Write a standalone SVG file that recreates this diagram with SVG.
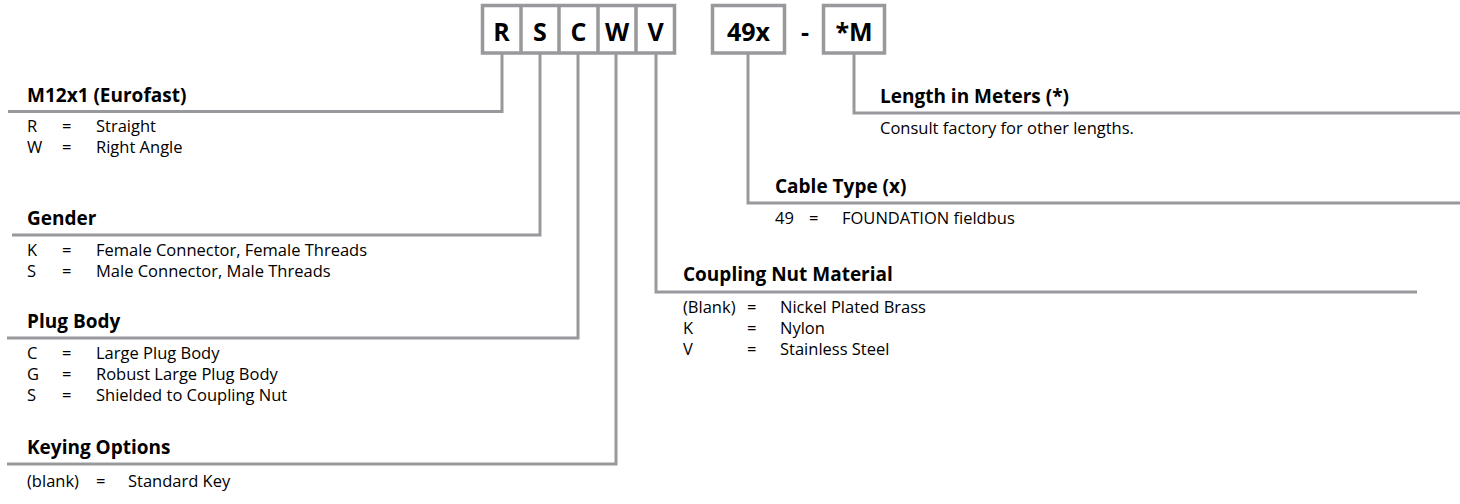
<svg xmlns="http://www.w3.org/2000/svg" width="1460" height="504" viewBox="0 0 1460 504">
<style>
.ln{fill:none;stroke:#98999c;stroke-width:3}
.bx{fill:#fff;stroke:#98999c;stroke-width:3.5}
.code{font-family:"Open Sans","Liberation Sans",sans-serif;font-weight:bold;font-size:25px;fill:#000;text-anchor:middle}
.h{font-family:"Open Sans","Liberation Sans",sans-serif;font-weight:bold;font-size:19px;fill:#000}
.t{font-family:"Open Sans","Liberation Sans",sans-serif;font-size:16.5px;fill:#000}
</style>
<rect width="1460" height="504" fill="#fff"/>
<g id="connectors">
<polyline class="ln" points="502,53 502,111.5 8,111.5"/>
<polyline class="ln" points="540,53 540,235 12,235"/>
<polyline class="ln" points="578,53 578,338 7,338"/>
<polyline class="ln" points="616,53 616,464 7,464"/>
<polyline class="ln" points="656,53 656,292 1417,292"/>
<polyline class="ln" points="748,53 748,203 1460,203"/>
<polyline class="ln" points="854,53 854,113 1460,113"/>
</g>
<g id="code-boxes">
<rect class="bx" x="482.5" y="5.5" width="192" height="47.5"/>
<line class="bx" x1="521" y1="5" x2="521" y2="54"/>
<line class="bx" x1="559" y1="5" x2="559" y2="54"/>
<line class="bx" x1="598" y1="5" x2="598" y2="54"/>
<line class="bx" x1="636" y1="5" x2="636" y2="54"/>
<text class="code" x="501.5" y="41">R</text>
<text class="code" x="540" y="41">S</text>
<text class="code" x="578.5" y="41">C</text>
<text class="code" x="617" y="41">W</text>
<text class="code" x="655.5" y="41">V</text>
<rect class="bx" x="712.5" y="5.5" width="72" height="47.5"/>
<text class="code" x="748.5" y="41">49x</text>
<text class="code" x="805" y="41">-</text>
<rect class="bx" x="823.5" y="5.5" width="61" height="47.5"/>
<text class="code" x="854" y="41">*M</text>
</g>
<g id="m12x1">
<text class="h" x="27" y="102">M12x1 (Eurofast)</text>
<text class="t" x="27" y="132">R</text><text class="t" x="62" y="132">=</text><text class="t" x="96" y="132">Straight</text>
<text class="t" x="27" y="153">W</text><text class="t" x="62" y="153">=</text><text class="t" x="96" y="153">Right Angle</text>
</g>
<g id="gender">
<text class="h" x="27" y="225">Gender</text>
<text class="t" x="27" y="256">K</text><text class="t" x="62" y="256">=</text><text class="t" x="96" y="256">Female Connector, Female Threads</text>
<text class="t" x="27" y="277">S</text><text class="t" x="62" y="277">=</text><text class="t" x="96" y="277">Male Connector, Male Threads</text>
</g>
<g id="plug-body">
<text class="h" x="27" y="328">Plug Body</text>
<text class="t" x="27" y="359">C</text><text class="t" x="62" y="359">=</text><text class="t" x="96" y="359">Large Plug Body</text>
<text class="t" x="27" y="380">G</text><text class="t" x="62" y="380">=</text><text class="t" x="96" y="380">Robust Large Plug Body</text>
<text class="t" x="27" y="401">S</text><text class="t" x="62" y="401">=</text><text class="t" x="96" y="401">Shielded to Coupling Nut</text>
</g>
<g id="keying">
<text class="h" x="27" y="454">Keying Options</text>
<text class="t" x="27" y="487">(blank)</text><text class="t" x="96" y="487">=</text><text class="t" x="128" y="487">Standard Key</text>
</g>
<g id="coupling-nut">
<text class="h" x="683" y="281">Coupling Nut Material</text>
<text class="t" x="683" y="313">(Blank)</text><text class="t" x="747" y="313">=</text><text class="t" x="780" y="313">Nickel Plated Brass</text>
<text class="t" x="683" y="334">K</text><text class="t" x="747" y="334">=</text><text class="t" x="780" y="334">Nylon</text>
<text class="t" x="683" y="355">V</text><text class="t" x="747" y="355">=</text><text class="t" x="780" y="355">Stainless Steel</text>
</g>
<g id="cable-type">
<text class="h" x="775" y="193">Cable Type (x)</text>
<text class="t" x="775" y="224">49</text><text class="t" x="809" y="224">=</text><text class="t" x="842" y="224">FOUNDATION fieldbus</text>
</g>
<g id="length">
<text class="h" x="880" y="103">Length in Meters (*)</text>
<text class="t" x="880" y="134">Consult factory for other lengths.</text>
</g>
</svg>
